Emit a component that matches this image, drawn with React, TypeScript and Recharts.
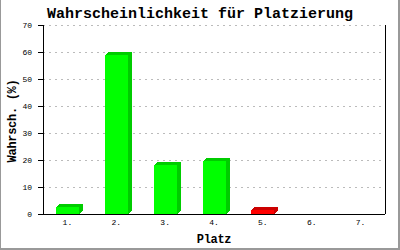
import React from "react";
import { BarChart, Bar, XAxis, YAxis, CartesianGrid, Cell } from "recharts";

const places = ["1.", "2.", "3.", "4.", "5.", "6.", "7."];
const probabilities = [2.7, 59, 18, 19.8, 1.5, 0, 0];
const yTicks = [0, 10, 20, 30, 40, 50, 60, 70];

const barFront = ["#00ff00", "#00ff00", "#00ff00", "#00ff00", "#ff0000", "#00ff00", "#00ff00"];
const barSide = ["#00cc00", "#00cc00", "#00cc00", "#00cc00", "#cc0000", "#00cc00", "#00cc00"];

const data = places.map((platz, i) => ({ platz, wert: probabilities[i] }));

const FONT = "'Liberation Mono', 'DejaVu Sans Mono', monospace";

// bar with a small fake-3D top and side
const Bar3D = (props: any) => {
  const { x, y, width, height, index } = props;
  if (!height || height <= 0) return null;
  const dx = 4;
  const dy = 3;
  const x0 = Math.round(x);
  const y0 = Math.round(y);
  const w = Math.round(width);
  const yb = Math.round(y + height);
  const dark = barSide[index];
  return (
    <g>
      <polygon
        points={`${x0},${y0} ${x0 + dx},${y0 - dy} ${x0 + w + dx},${y0 - dy} ${x0 + w},${y0}`}
        fill={dark}
      />
      <polygon
        points={`${x0 + w},${y0} ${x0 + w + dx},${y0 - dy} ${x0 + w + dx},${yb - dy} ${x0 + w},${yb}`}
        fill={dark}
      />
      <rect x={x0} y={y0} width={w} height={yb - y0} fill={barFront[index]} />
    </g>
  );
};

export default function App() {
  return (
    <div style={{ position: "absolute", left: 0, top: 0, width: 400, height: 250, background: "#fff" }}>
      <BarChart
        width={400}
        height={250}
        data={data}
        margin={{ top: 25, right: 0, bottom: 0, left: 0 }}
        style={{ shapeRendering: "crispEdges" }}
      >
        <CartesianGrid vertical={false} stroke="#bbbbbb" strokeDasharray="2 4" />
        <XAxis
          dataKey="platz"
          height={36}
          tickLine={false}
          tickSize={5}
          tickMargin={0}
          axisLine={{ stroke: "#000" }}
          tick={{ fontFamily: FONT, fontSize: 8, fill: "#000" }}
          interval={0}
        />
        <YAxis
          width={43}
          domain={[0, 70]}
          ticks={yTicks}
          tickSize={5}
          tickMargin={6}
          axisLine={{ stroke: "#000" }}
          tickLine={{ stroke: "#000" }}
          tick={{ fontFamily: FONT, fontSize: 8, fill: "#000" }}
        />
        <YAxis
          yAxisId="right"
          orientation="right"
          width={15}
          domain={[0, 70]}
          tick={false}
          tickLine={false}
          axisLine={{ stroke: "#000" }}
        />
        <Bar dataKey="wert" barSize={23} shape={<Bar3D />} isAnimationActive={false}>
          {data.map((d, i) => (
            <Cell key={d.platz} fill={barFront[i]} />
          ))}
        </Bar>
      </BarChart>
      <svg
        width={400}
        height={250}
        style={{ position: "absolute", left: 0, top: 0, pointerEvents: "none" }}
      >
        <text x={200} y={18} textAnchor="middle" fontFamily={FONT} fontWeight="bold" fontSize={15} fill="#000">
          Wahrscheinlichkeit für Platzierung
        </text>
        <text
          transform="translate(16,121) rotate(-90)"
          textAnchor="middle"
          fontFamily={FONT}
          fontWeight="bold"
          fontSize={12}
          letterSpacing={-0.3}
          fill="#000"
        >
          Wahrsch. (%)
        </text>
        <text x={214} y={243} textAnchor="middle" fontFamily={FONT} fontWeight="bold" fontSize={12} letterSpacing={-0.3} fill="#000">
          Platz
        </text>
      </svg>
      <div
        style={{
          position: "absolute",
          left: 0,
          top: 0,
          width: 400,
          height: 250,
          boxSizing: "border-box",
          borderLeft: "1px solid #999",
          borderRight: "2px solid #999",
          borderBottom: "2px solid #999",
          pointerEvents: "none",
        }}
      />
    </div>
  );
}
